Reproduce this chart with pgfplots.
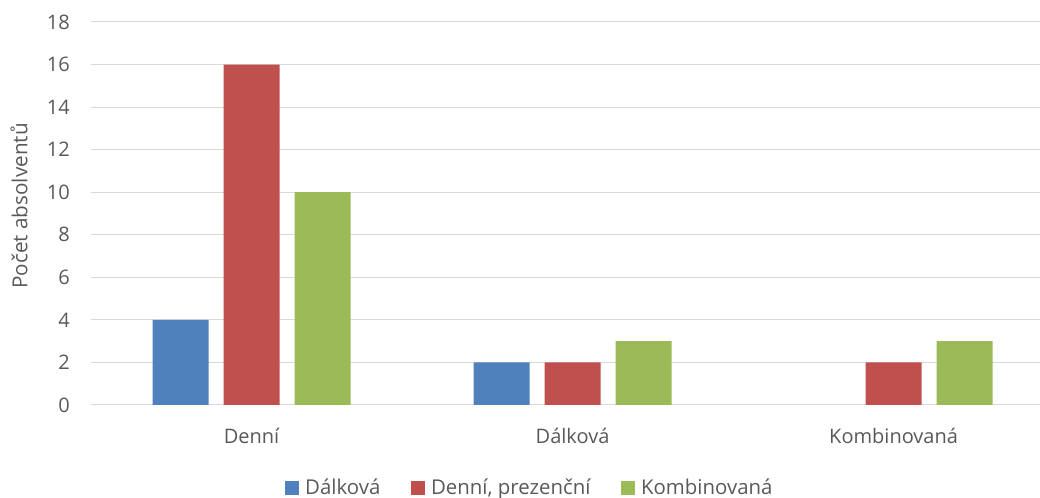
\documentclass[border=0pt]{standalone}
\usepackage{fontspec}
\setmainfont{Open Sans}
\usepackage{pgfplots}
\pgfplotsset{compat=1.18}

\definecolor{cblue}{HTML}{4F81BD}
\definecolor{cred}{HTML}{C0504D}
\definecolor{cgreen}{HTML}{9BBB59}
\definecolor{txt}{HTML}{595959}
\definecolor{grid}{HTML}{D9D9D9}

\begin{document}
\begin{tikzpicture}
\begin{axis}[
    scale only axis,
    width=711.75pt,
    height=287.25pt,
    at={(0,0)}, anchor=south west,
    ybar=11.25pt,
    bar width=42pt,
    xmin=-0.5, xmax=2.456,
    ymin=0, ymax=18,
    xtick={0,1,2},
    xticklabels={Denní,Dálková,Kombinovaná},
    ytick={0,2,...,18},
    major tick length=0pt,
    axis x line*=bottom,
    axis y line*=left,
    x axis line style={draw=grid, line width=0.75pt},
    y axis line style={draw=none},
    ymajorgrids,
    grid style={draw=grid, line width=0.75pt},
    font=\fontsize{15}{18}\selectfont,
    /pgf/number format/assume math mode=true,
    tick label style={text=txt},
    yticklabel style={anchor=east, inner sep=0pt, xshift=-15.75pt},
    xticklabel style={anchor=center, inner sep=0pt, yshift=-23pt},
    every axis y label/.style={at={(axis description cs:-0.0759,0.52)}, anchor=center, rotate=90, text=txt,
        font=\fontsize{15.5}{18}\selectfont},
    ylabel={Počet absolventů},
    legend columns=3,
    legend style={draw=none, fill=none, inner sep=0pt, text=txt,
        at={(axis description cs:0.2044,0)}, anchor=west, yshift=-62.25pt,
        font=\fontsize{15.3}{18}\selectfont,
        nodes={inner sep=0pt},
        /tikz/every odd column/.append style={column sep=4.5pt},
        /tikz/every even column/.append style={column sep=23pt}},
    legend cell align=left,
    legend image code/.code={\fill[#1] (0pt,-5pt) rectangle (10.5pt,5pt);},
]
\addplot+[fill=cblue, draw=none] coordinates {(0,4) (1,2)};
\addlegendentry{Dálková}
\addplot+[fill=cred, draw=none] coordinates {(0,16) (1,2) (2,2)};
\addlegendentry{Denní, prezenční}
\addplot+[fill=cgreen, draw=none] coordinates {(0,10) (1,3) (2,3)};
\addlegendentry{Kombinovaná}
\end{axis}
\pgfresetboundingbox
\path (-68.25pt,-69.75pt) rectangle (711.75pt,303.75pt);
\end{tikzpicture}
\end{document}
